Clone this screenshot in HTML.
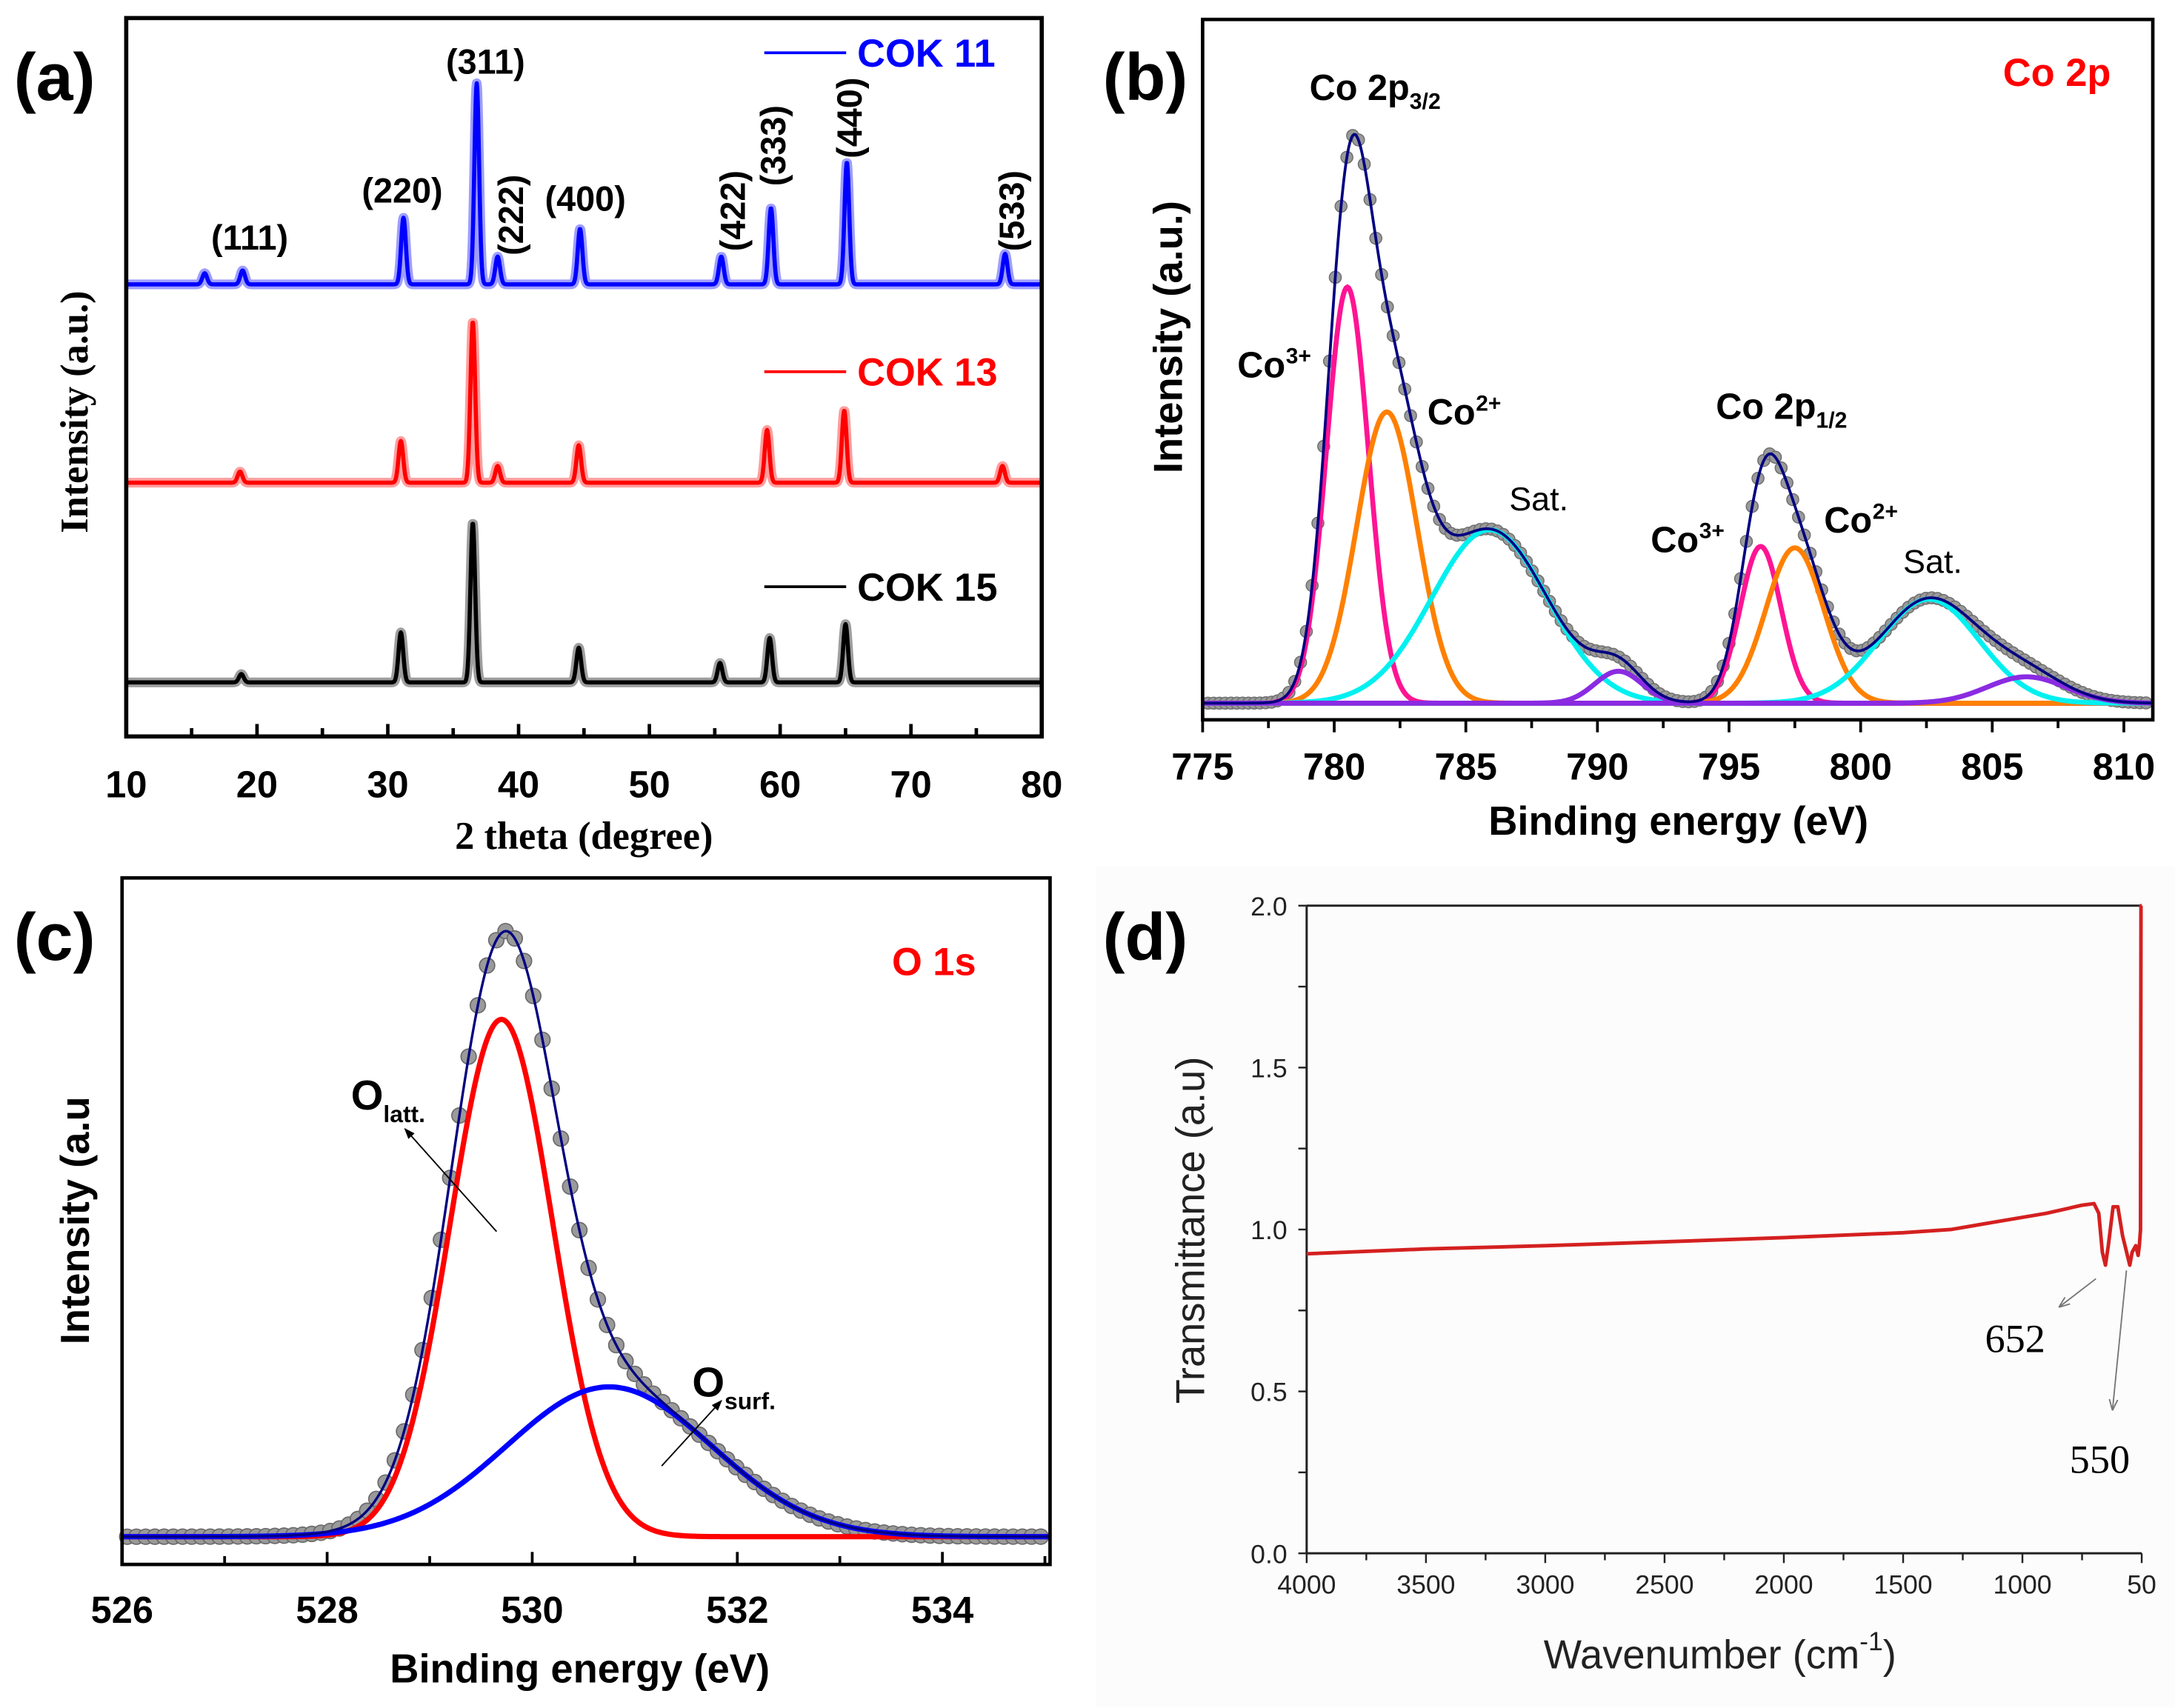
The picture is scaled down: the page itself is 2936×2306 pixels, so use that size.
<!DOCTYPE html>
<html><head><meta charset="utf-8">
<style>
html,body{margin:0;padding:0;background:#fff;}
svg{display:block;}
.sb{font-family:"Liberation Sans",sans-serif;font-weight:bold;}
.sr{font-family:"Liberation Serif",serif;}
</style></head>
<body>
<svg id="fig" xmlns="http://www.w3.org/2000/svg" width="2936" height="2306" viewBox="0 0 1568 1231.5">
<rect x="0" y="0" width="1568" height="1231.5" fill="#fff"/>
<rect x="790" y="625" width="778" height="606" fill="#fcfcfc"/>
<g id="ga"></g>
<g id="gb"></g>
<g id="gc"></g>
<g id="gd"></g>
</svg>
<script>
// ---------- DATA ----------
// (a) XRD
const xrdTicks = [10,20,30,40,50,60,70,80];
const cok11Pos = [16.0,18.9,31.2,36.8,38.4,44.7,55.5,59.3,65.1,77.2];
const cok11Amp = [8,10,48,145,20,40,20,55,88,22];
const cok13Pos = [18.7,31.0,36.5,38.4,44.6,59.0,64.9,77.0];
const cok13Amp = [8,30,116,12,27,38,52,12];
const cok15Pos = [18.8,31.0,36.5,44.6,55.4,59.2,65.0];
const cok15Amp = [6,36,115,25,14,32,42];
const xrdNames = ["COK 11","COK 13","COK 15"];
const xrdBase = [205,348,492];
// (b) Co 2p
const co2pTicks = [775,780,785,790,795,800,805,810];
const co2pCenters = [780.5,782.0,785.9,790.8,796.2,797.5,802.6,806.3];
const co2pHeights = [300,210,125,23,113,112,75,19];
const co2pSigmas = [0.8,1.15,2.2,0.9,0.78,1.1,1.9,1.5];
const co2pColors = ["#ff1493","#ff8000","#00f0f0","#8a2be2","#ff1493","#ff8000","#00f0f0","#8a2be2"];
// (c) O 1s
const o1sTicks = [526,528,530,532,534];
const o1sCenters = [529.7,530.75];
const o1sHeights = [373,108];
const o1sSigmas = [0.5,1.0];
const o1sColors = ["#ff0000","#0000ff"];
// (d) FTIR
const ftirXTicks = [4000,3500,3000,2500,2000,1500,1000,500];
const ftirYTicks = [0.0,0.5,1.0,1.5,2.0];
const ftirX = [4000,3500,3000,2500,2000,1500,1300,1100,900,750,700,680,665,652,640,620,600,580,560,550,540,525,515,510,505,503,500];
const ftirY = [0.925,0.94,0.95,0.962,0.975,0.99,1.0,1.025,1.05,1.075,1.08,1.05,0.93,0.89,0.95,1.07,1.07,0.98,0.92,0.89,0.93,0.95,0.92,0.95,1.0,2.0,2.0];

const NS="http://www.w3.org/2000/svg";
function mk(parent,tag,attrs,text){const e=document.createElementNS(NS,tag);for(const k in attrs)e.setAttribute(k,attrs[k]);if(text!==undefined)e.textContent=text;parent.appendChild(e);return e;}
function gauss(x,c,h,s){return h*Math.exp(-((x-c)*(x-c))/(2*s*s));}

// ---------- PANEL A ----------
(function(){
const g=document.getElementById('ga');
const L=91,R=751,T=13,B=531,x0=10,x1=80;
const sx=v=>L+(v-x0)/(x1-x0)*(R-L);
const sets=[[cok11Pos,cok11Amp,"#0000ff"],[cok13Pos,cok13Amp,"#ff0000"],[cok15Pos,cok15Amp,"#000000"]];
sets.forEach((s,i)=>{
  let d="";
  for(let x=x0;x<=x1;x+=0.04){let y=xrdBase[i];s[0].forEach((p,j)=>{y-=gauss(x,p,s[1][j],0.18);});d+=(d?"L":"M")+sx(x).toFixed(2)+","+y.toFixed(2);}
  const band=mk(g,'path',{d:d,fill:'none',stroke:s[2],'stroke-width':7,'stroke-opacity':0.38,'stroke-linejoin':'round'});
  
  
  const p=mk(g,'path',{d:d,fill:'none',stroke:s[2],'stroke-width':3,'stroke-linejoin':'round'});
  
  
});
const box=mk(g,'rect',{x:L,y:T,width:R-L,height:B-T,fill:'none',stroke:'#000','stroke-width':3});

for(let v=x0;v<=x1;v+=5){const maj=v%10===0;mk(g,'line',{x1:sx(v),x2:sx(v),y1:B,y2:B-(maj?9:6),stroke:'#000','stroke-width':2.5});}
xrdTicks.forEach(v=>{const t=mk(g,'text',{x:sx(v),y:575,'text-anchor':'middle','font-size':27,class:'sb'},v);
 });
const lc=["#0000ff","#ff0000","#000000"],ly=[38,268,423];
xrdNames.forEach((n,i)=>{
  const l=mk(g,'line',{x1:551,x2:610,y1:ly[i],y2:ly[i],stroke:lc[i],'stroke-width':2});
  
  const t=mk(g,'text',{x:618,y:ly[i]+10,'font-size':28,fill:i===2?'#000':lc[i],class:'sb','font-weight':'normal'},n);
  
});
const labs=[["(111)",180,180,0],["(220)",290,146,0],["(311)",350,53,0],["(222)",377,155,-90],["(400)",422,152,0],["(422)",537,152,-90],["(333)",566,105,-90],["(440)",621,85,-90],["(533)",738,152,-90]];
labs.forEach(a=>{const t=mk(g,'text',{x:a[1],y:a[2],'text-anchor':'middle','font-size':25,class:'sb',transform:a[3]?`rotate(-90 ${a[1]} ${a[2]})`:''},a[0]);
 });
let t=mk(g,'text',{x:10,y:72,'font-size':48,class:'sb'},'(a)');
t=mk(g,'text',{x:421,y:612,'text-anchor':'middle','font-size':28,class:'sr','font-weight':'bold'},'2 theta (degree)');
t=mk(g,'text',{x:63,y:297,'text-anchor':'middle','font-size':28,class:'sr','font-weight':'bold',transform:'rotate(-90 63 297)'},'Intensity (a.u.)');
})();

// ---------- PANEL B ----------
(function(){
const g=document.getElementById('gb');
const L=867,R=1552,T=14,B=519,x0=775,x1=811.1,base=507;
const sx=v=>L+(v-x0)/(x1-x0)*(R-L);
const env=x=>{let s=0;co2pCenters.forEach((c,i)=>{s+=gauss(x,c,co2pHeights[i],co2pSigmas[i]);});return s;};
for(let x=775.2;x<=811;x+=0.22){const y=base-env(x);const c=mk(g,'circle',{cx:sx(x),cy:y,r:4.3,fill:'#9a9a9a',stroke:'#6f6f6f','stroke-width':0.8});
 }
co2pCenters.forEach((c,i)=>{let d="";for(let x=x0;x<=x1;x+=0.05){d+=(d?"L":"M")+sx(x).toFixed(2)+","+(base-gauss(x,c,co2pHeights[i],co2pSigmas[i])).toFixed(2);}
 const p=mk(g,'path',{d:d,fill:'none',stroke:co2pColors[i],'stroke-width':3.6});
 });
let d="";for(let x=x0;x<=x1;x+=0.05){d+=(d?"L":"M")+sx(x).toFixed(2)+","+(base-env(x)).toFixed(2);}
let p=mk(g,'path',{d:d,fill:'none',stroke:'#000080','stroke-width':2});
const box=mk(g,'rect',{x:L,y:T,width:R-L,height:B-T,fill:'none',stroke:'#000','stroke-width':2.5});

for(let v=775;v<=811;v+=2.5){const maj=v%5===0;mk(g,'line',{x1:sx(v),x2:sx(v),y1:B,y2:B+(maj?9:6),stroke:'#000','stroke-width':2});}
co2pTicks.forEach(v=>{const t=mk(g,'text',{x:sx(v),y:562,'text-anchor':'middle','font-size':27,class:'sb'},v);});
const T2=(x,y,s,txt,sub,fill,name)=>{const t=mk(g,'text',{x:x,y:y,'font-size':s,class:'sb',fill:fill||'#000'});t.appendChild(document.createTextNode(txt));
 if(sub){mk(t,'tspan',{'font-size':s*0.62,dy:s*0.25},sub);}
 return t;};
T2(795,72,48,'(b)',null,'#000','panel-label-b');
T2(1444,62,28,'Co 2p',null,'#ff0000','core-level-title');
T2(944,72,26,'Co 2p','3/2','#000','peak-label');
T2(892,272,26,'Co',null,'#000','peak-label');
T2(927,262,16,'3+',null,'#000','peak-label');
T2(1029,306,26,'Co',null,'#000','peak-label');
T2(1064,296,16,'2+',null,'#000','peak-label');
const s1=mk(g,'text',{x:1088,y:368,'font-size':24,'font-family':'Liberation Sans'},'Sat.');
T2(1237,302,26,'Co 2p','1/2','#000','peak-label');
T2(1190,398,26,'Co',null,'#000','peak-label');
T2(1225,388,16,'3+',null,'#000','peak-label');
T2(1315,384,26,'Co',null,'#000','peak-label');
T2(1350,374,16,'2+',null,'#000','peak-label');
const s2=mk(g,'text',{x:1372,y:413,'font-size':24,'font-family':'Liberation Sans'},'Sat.');
let t=mk(g,'text',{x:1210,y:602,'text-anchor':'middle','font-size':29,class:'sb'},'Binding energy (eV)');
t=mk(g,'text',{x:852,y:243,'text-anchor':'middle','font-size':29,class:'sb',transform:'rotate(-90 852 243)'},'Intensity (a.u.)');
})();

// ---------- PANEL C ----------
(function(){
const g=document.getElementById('gc');
const L=88,R=757,T=633,B=1128,x0=526,x1=535.05,base=1108;
const sx=v=>L+(v-x0)/(x1-x0)*(R-L);
const env=x=>gauss(x,o1sCenters[0],o1sHeights[0],o1sSigmas[0])+gauss(x,o1sCenters[1],o1sHeights[1],o1sSigmas[1]);
for(let x=526.05;x<=535;x+=0.09){const c=mk(g,'circle',{cx:sx(x),cy:base-env(x),r:5.5,fill:'#9a9a9a',stroke:'#6a6a6a','stroke-width':0.9});
 }
o1sCenters.forEach((c,i)=>{let d="";for(let x=x0;x<=x1;x+=0.02){d+=(d?"L":"M")+sx(x).toFixed(2)+","+(base-gauss(x,c,o1sHeights[i],o1sSigmas[i])).toFixed(2);}
 const p=mk(g,'path',{d:d,fill:'none',stroke:o1sColors[i],'stroke-width':3.8});});
let d="";for(let x=x0;x<=x1;x+=0.02){d+=(d?"L":"M")+sx(x).toFixed(2)+","+(base-env(x)).toFixed(2);}
let p=mk(g,'path',{d:d,fill:'none',stroke:'#000080','stroke-width':1.8});
const box=mk(g,'rect',{x:L,y:T,width:R-L,height:B-T,fill:'none',stroke:'#000','stroke-width':2.5});
for(let v=526;v<=535;v+=1){const maj=v%2===0;mk(g,'line',{x1:sx(v),x2:sx(v),y1:B,y2:B-(maj?9:6),stroke:'#000','stroke-width':2});}
o1sTicks.forEach(v=>{const t=mk(g,'text',{x:sx(v),y:1170,'text-anchor':'middle','font-size':27,class:'sb'},v);});
let t=mk(g,'text',{x:10,y:692,'font-size':48,class:'sb'},'(c)');
t=mk(g,'text',{x:643,y:703,'font-size':28,class:'sb',fill:'#ff0000'},'O 1s');
t=mk(g,'text',{x:253,y:800,'font-size':30,class:'sb'},'O');mk(t,'tspan',{'font-size':17,dy:9},'latt.');
t=mk(g,'text',{x:499,y:1007,'font-size':30,class:'sb'},'O');mk(t,'tspan',{'font-size':17,dy:9},'surf.');
mk(g,'defs',{}).innerHTML='<marker id="ah" markerWidth="8" markerHeight="8" refX="7" refY="4" orient="auto"><path d="M0,1 L8,4 L0,7 z" fill="#000"/></marker><marker id="ah2" markerWidth="8" markerHeight="8" refX="7" refY="4" orient="auto"><path d="M0,1 L8,4 L0,7" fill="none" stroke="#777"/></marker>';
let a=mk(g,'line',{x1:358,y1:888,x2:292,y2:814,stroke:'#000','stroke-width':1,'marker-end':'url(#ah)'});
a=mk(g,'line',{x1:477,y1:1057,x2:520,y2:1010,stroke:'#000','stroke-width':1,'marker-end':'url(#ah)'});
t=mk(g,'text',{x:418,y:1213,'text-anchor':'middle','font-size':29,class:'sb'},'Binding energy (eV)');
t=mk(g,'text',{x:64,y:880,'text-anchor':'middle','font-size':29,class:'sb',transform:'rotate(-90 64 880)'},'Intensity (a.u');
})();

// ---------- PANEL D ----------
(function(){
const g=document.getElementById('gd');
const L=942,R=1544,T=653,B=1120,x0=4000,x1=500,y0=0,y1=2;
const sx=v=>L+(x0-v)/(x0-x1)*(R-L);
const sy=v=>B-(v-y0)/(y1-y0)*(B-T);
mk(g,'line',{x1:L,x2:R,y1:T,y2:T,stroke:'#222','stroke-width':1.6});
mk(g,'line',{x1:L,x2:L,y1:T,y2:B,stroke:'#222','stroke-width':1.6});
mk(g,'line',{x1:L,x2:R,y1:B,y2:B,stroke:'#222','stroke-width':1.6});
for(let v=4000;v>=500;v-=250){const maj=v%500===0;mk(g,'line',{x1:sx(v),x2:sx(v),y1:B,y2:B+(maj?7:5),stroke:'#222','stroke-width':1.3});}
for(let v=0;v<=2.001;v+=0.25){mk(g,'line',{x1:L,x2:L-6,y1:sy(v),y2:sy(v),stroke:'#222','stroke-width':1.3});}
ftirXTicks.forEach(v=>{const t=mk(g,'text',{x:sx(v),y:1149,'text-anchor':'middle','font-size':19,'font-family':'Liberation Sans',fill:'#222'},v===500?'50':v);});
ftirYTicks.forEach(v=>{const t=mk(g,'text',{x:928,y:sy(v)+7,'text-anchor':'end','font-size':19,'font-family':'Liberation Sans',fill:'#222'},v.toFixed(1));});
let d="";ftirX.forEach((x,i)=>{d+=(i?"L":"M")+sx(x).toFixed(2)+","+sy(ftirY[i]).toFixed(2);});
const p=mk(g,'path',{d:d,fill:'none',stroke:'#d42020','stroke-width':2.6,'stroke-linejoin':'round'});
let a=mk(g,'line',{x1:1511,y1:922,x2:1485,y2:942,stroke:'#777','stroke-width':1,'marker-end':'url(#ah2)'});
a=mk(g,'line',{x1:1533,y1:916,x2:1523,y2:1016,stroke:'#777','stroke-width':1,'marker-end':'url(#ah2)'});
let t=mk(g,'text',{x:1431,y:975,'font-size':29,class:'sr'},'652');
t=mk(g,'text',{x:1492,y:1062,'font-size':29,class:'sr'},'550');
t=mk(g,'text',{x:795,y:692,'font-size':48,class:'sb'},'(d)');
t=mk(g,'text',{x:1240,y:1203,'text-anchor':'middle','font-size':29,'font-family':'Liberation Sans',fill:'#222'},'Wavenumber (cm');mk(t,'tspan',{'font-size':19,dy:-13},'-1');mk(t,'tspan',{dy:13},')');
t=mk(g,'text',{x:868,y:887,'text-anchor':'middle','font-size':29,'font-family':'Liberation Sans',fill:'#222',transform:'rotate(-90 868 887)'},'Transmittance (a.u)');
})();
</script>
</body></html>
